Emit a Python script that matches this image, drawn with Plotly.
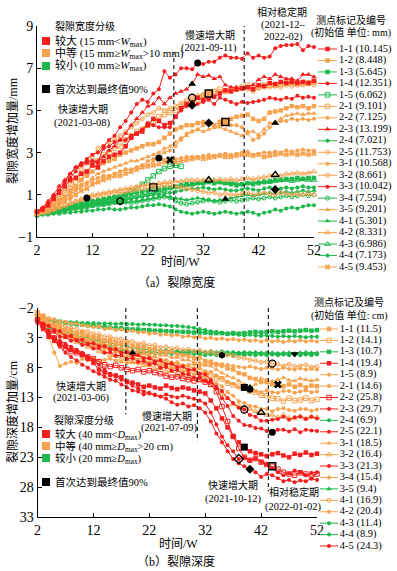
import plotly.graph_objects as go

# ---------------- DATA ----------------
weeks = list(range(2, 53))
point_ids = ["1-1", "1-2", "1-3", "1-4", "1-5", "2-1", "2-2", "2-3", "2-4", "2-5",
             "3-1", "3-2", "3-3", "3-4", "3-5", "4-1", "4-2", "4-3", "4-4", "4-5"]

width_initial_mm = [10.145, 8.448, 5.645, 12.351, 6.062, 9.101, 7.125, 13.199, 7.021, 11.753,
                    10.568, 8.661, 10.042, 7.594, 9.201, 5.301, 8.331, 6.986, 7.173, 9.453]
width_grade = ["L", "M", "S", "L", "S", "M", "M", "L", "S", "M",
               "M", "M", "L", "S", "M", "S", "M", "S", "S", "M"]

depth_initial_cm = [11.5, 14.1, 10.7, 19.4, 8.9, 14.6, 25.8, 29.7, 6.9, 22.1,
                    18.5, 16.4, 21.3, 15.4, 9.4, 16.9, 20.4, 11.4, 8.9, 24.3]
depth_grade = ["M", "M", "S", "L", "M", "M", "L", "L", "S", "L",
               "M", "M", "L", "M", "S", "M", "M", "S", "S", "L"]

# crack width increment (mm), weeks 2..52
W_1_1 = [0.2, 0.3, 0.5, 0.8, 1.1, 1.4, 1.7, 1.8, 2.0, 2.1,
         2.4, 2.3, 2.6, 2.8, 2.9, 3.0, 3.3, 3.7, 3.9, 4.0,
         4.3, 4.6, 4.5, 4.3, 4.4, 4.7, 5.1, 5.3, 5.35, 5.6,
         5.5, 5.6, 5.65, 5.8, 5.95, 5.9, 6.0, 6.05, 6.1, 6.0,
         6.2, 6.15, 6.3, 6.25, 6.35, 6.3, 6.35, 6.3, 6.35, 6.3,
         6.4]
W_1_2 = [0.1, 0.2, 0.3, 0.5, 0.7, 0.9, 1.2, 1.4, 1.7, 1.9,
         2.1, 2.3, 2.5, 2.6, 2.7, 2.9, 3.0, 3.1, 3.2, 3.3,
         3.4, 3.4, 3.5, 3.7, 3.9, 4.1, 4.2, 4.3, 4.3, 4.4,
         4.45, 4.4, 4.3, 4.45, 4.45, 4.6, 4.7, 4.75, 4.8, 4.6,
         4.5, 4.6, 4.9, 4.95, 5.0, 5.1, 5.2, 5.15, 5.2, 5.1,
         5.2]
W_1_3 = [0.1, 0.15, 0.2, 0.3, 0.35, 0.4, 0.5, 0.55, 0.6, 0.65,
         0.7, 0.75, 0.8, 0.85, 0.9, 0.95, 1.0, 1.05, 1.1, 1.15,
         1.2, 1.35, 1.25, 1.3, 1.35, 1.4, 1.45, 1.5, 1.5, 1.55,
         1.55, 1.6, 1.55, 1.6, 1.55, 1.5, 1.45, 1.5, 1.55, 1.5,
         1.55, 1.6, 1.65, 1.7, 1.7, 1.75, 1.75, 1.8, 1.75, 1.8,
         1.8]
W_1_4 = [0.2, 0.3, 0.6, 0.9, 1.2, 1.6, 1.8, 2.1, 2.5, 2.6,
         2.6, 2.5, 3.3, 3.6, 3.8, 4.2, 4.5, 4.9, 5.3, 5.5,
         5.4, 5.8, 6.0, 6.85, 6.55, 6.7, 7.0, 7.0, 6.95, 7.25,
         7.2, 7.3, 7.3, 7.5, 7.6, 7.5, 7.5, 7.45, 7.7, 7.5,
         7.6, 7.5, 7.55, 7.95, 8.05, 8.1, 8.1, 8.15, 7.85, 8.05,
         8.0]
W_1_5 = [0.1, 0.15, 0.2, 0.25, 0.3, 0.35, 0.4, 0.45, 0.5, 0.55,
         0.6, 0.65, 0.7, 0.75, 0.8, 0.9, 1.0, 1.15, 1.3, 1.5,
         1.7, 1.9, 2.1, 2.25, 2.35, 2.4, 2.35, None, None, None,
         None, None, None, None, None, None, None, None, None, None,
         None, None, None, None, None, None, None, None, None, None,
         None]
W_2_1 = [0.2, 0.3, 0.4, 0.6, 0.8, 1.1, 1.3, 1.6, 1.8, 2.1,
         2.4, 2.6, 2.9, 3.0, 3.2, 3.3, 3.6, 3.8, 4.0, 4.1,
         4.3, 4.4, 4.7, 4.8, 4.9, 5.0, 5.2, 5.3, 5.45, 5.5,
         5.7, 5.8, 5.9, 6.0, 5.9, 5.95, 6.0, 6.1, 6.2, 6.1,
         6.1, 6.2, 6.2, 6.2, 6.25, 6.3, 6.3, 6.25, 6.3, 6.3,
         6.35]
W_2_2 = [0.1, 0.2, 0.3, 0.4, 0.5, 0.7, 0.8, 1.0, 1.2, 1.3,
         1.5, 1.6, 1.8, 1.9, 2.0, 2.1, 2.2, 2.2, 2.3, 2.4,
         2.6, 2.7, 2.8, 3.0, 3.1, 3.3, 3.6, 3.9, 4.0, 4.1,
         4.3, 4.4, 4.2, 4.3, 4.4, 4.3, 4.3, 4.2, 3.9, 3.6,
         3.7, 3.9, 4.2, 4.4, 4.5, 4.5, 4.6, 4.55, 4.6, 4.55,
         4.6]
W_2_3 = [0.2, 0.4, 0.7, 1.0, 1.4, 1.7, 2.0, 2.3, 2.5, 2.5,
         2.6, 2.6, 2.8, 3.1, 3.3, 3.6, 3.9, 4.3, 4.6, 4.9,
         5.2, 5.3, 5.6, 5.3, 5.6, 5.8, 5.9, 6.0, 6.25, 6.7,
         6.6, 6.65, 6.5, 6.6, 6.2, 6.1, 6.1, 6.0, 6.1, 6.2,
         6.45, 6.6, 6.5, 6.7, 6.6, 6.5, 6.5, 6.4, 6.7, 6.7,
         6.6]
W_2_4 = [0.05, 0.1, 0.15, 0.2, 0.25, 0.3, 0.35, 0.4, 0.45, 0.45,
         0.5, 0.55, 0.6, 0.6, 0.65, 0.7, 0.75, 0.8, 0.85, 0.9,
         0.95, 1.0, 1.0, 1.05, 1.1, 1.15, 1.2, 1.25, 1.3, 1.3,
         1.35, 1.3, 1.25, 1.3, 1.25, 1.2, 1.2, 1.25, 1.3, 1.25,
         1.2, 1.3, 1.35, 1.25, 1.3, 1.35, 1.3, 1.35, 1.4, 1.35,
         1.35]
W_2_5 = [0.2, 0.3, 0.5, 0.7, 0.9, 1.2, 1.5, 1.8, 2.2, 2.5,
         2.8, 3.2, 3.3, 3.5, 3.6, 3.8, 4.0, 4.2, 4.4, 4.6,
         4.8, 4.9, 5.1, 5.0, 5.1, 5.2, 5.35, 5.5, 5.6, 5.7,
         5.75, 5.85, 5.9, 5.9, 5.95, 6.0, 6.0, 6.05, 6.0, 5.9,
         6.05, 6.1, 6.1, 6.15, 6.1, 6.2, 6.15, 6.2, 6.2, 6.25,
         6.2]
W_3_1 = [0.1, 0.2, 0.3, 0.5, 0.6, 0.8, 1.0, 1.2, 1.4, 1.5,
         1.7, 1.8, 1.9, 1.9, 2.0, 2.1, 2.2, 2.2, 2.3, 2.4,
         2.4, 2.6, 2.75, 2.65, 2.6, 2.7, 2.75, 2.8, 2.8, 2.8,
         2.85, 2.9, 2.85, 2.9, 2.95, 2.9, 2.95, 3.0, 3.05, 2.9,
         2.95, 3.0, 3.0, 3.05, 3.0, 3.1, 3.05, 3.1, 3.15, 3.1,
         3.1]
W_3_2 = [0.1, 0.15, 0.2, 0.3, 0.4, 0.5, 0.6, 0.7, 0.75, 0.85,
         0.9, 0.95, 1.0, 1.05, 1.1, 1.1, 1.15, 1.2, 1.25, 1.3,
         1.35, 1.37, 1.4, 1.45, 1.45, 1.4, 1.35, 1.3, 1.25, 1.2,
         1.15, 1.1, 1.1, 1.0, 1.05, 1.0, 1.0, 1.05, 1.1, 1.0,
         1.05, 1.1, 1.05, 1.0, 1.1, 1.05, 1.0, 1.05, 1.0, 1.05,
         1.0]
W_3_3 = [0.2, 0.35, 0.6, 0.9, 1.2, 1.6, 2.0, 2.3, 2.4, 2.7,
         2.9, 3.0, 3.2, 3.3, 3.5, 3.6, 3.6, 3.8, 3.9, 4.1,
         4.4, 4.3, 4.2, 4.2, 4.2, 4.7, 5.0, 5.2, 5.25, 5.3,
         5.4, 5.5, 5.3, 5.6, 5.5, 5.4, 5.3, 5.4, 5.35, 5.4,
         5.45, 5.5, 5.6, 5.55, 5.5, 5.6, 5.55, 5.7, 5.6, 5.65,
         5.6]
W_3_4 = [0.05, 0.1, 0.15, 0.2, 0.2, 0.25, 0.3, 0.35, 0.4, 0.45,
         0.5, 0.5, 0.55, 0.6, 0.65, 0.7, 0.65, 0.6, 0.65, 0.7,
         0.75, 0.8, 0.85, 0.9, 0.85, 0.7, 0.6, 0.55, 0.6, 0.65,
         0.7, 0.75, 0.7, 0.65, 0.7, 0.75, 0.7, 0.75, 0.8, 0.85,
         0.8, 0.85, 0.9, 0.85, 0.9, 0.95, 0.9, 0.95, 1.0, 0.95,
         1.0]
W_3_5 = [0.1, 0.2, 0.3, 0.5, 0.7, 0.9, 1.1, 1.3, 1.5, 1.6,
         1.8, 2.0, 2.1, 2.2, 2.3, 2.4, 2.5, 2.6, 2.6, 2.7,
         2.8, 2.9, 3.0, 3.2, 3.3, 3.5, 3.7, 3.8, 4.0, 4.1,
         4.0, 4.1, 4.2, 4.2, 4.1, 4.0, 3.9, 3.8, 4.0, 4.0,
         3.85, 4.1, 4.4, 4.4, 4.6, 4.75, 4.8, 4.85, 4.8, 4.85,
         4.85]
W_4_1 = [0.05, 0.1, 0.1, 0.15, 0.2, 0.25, 0.3, 0.35, 0.35, 0.4,
         0.45, 0.5, 0.5, 0.55, 0.6, 0.6, 0.65, 0.7, 0.7, 0.75,
         0.8, 0.85, 0.9, 0.95, 0.9, 0.85, 0.8, 0.75, 0.8, 0.85,
         0.8, 0.75, 0.7, 0.75, 0.8, 0.85, 0.9, 0.95, 1.0, 0.95,
         1.0, 1.05, 1.1, 1.05, 1.1, 1.15, 1.1, 1.15, 1.2, 1.15,
         1.2]
W_4_2 = [0.1, 0.15, 0.2, 0.3, 0.4, 0.5, 0.6, 0.7, 0.8, 0.9,
         1.0, 1.05, 1.1, 1.15, 1.2, 1.25, 1.3, 1.35, 1.4, 1.45,
         1.5, 1.5, 1.55, 1.6, 1.6, 1.65, 1.65, 1.7, 1.7, 1.7,
         1.7, 1.75, 1.7, 1.75, 1.7, 1.75, 1.7, 1.75, 1.8, 1.75,
         1.8, 1.85, 1.9, 1.95, 1.9, 2.0, 2.0, 2.05, 2.0, 2.05,
         2.1]
W_4_3 = [0.05, 0.1, 0.15, 0.2, 0.25, 0.3, 0.35, 0.4, 0.45, 0.5,
         0.55, 0.6, 0.65, 0.7, 0.75, 0.8, 0.85, 0.9, 0.95, 1.0,
         1.05, 1.1, 1.15, 1.2, 1.3, 1.35, 1.4, 1.45, 1.5, 1.55,
         1.6, 1.7, 1.65, 1.6, 1.55, 1.6, 1.55, 1.5, 1.55, 1.6,
         1.6, 1.65, 1.6, 1.65, 1.7, 1.7, 1.65, 1.7, 1.75, 1.7,
         1.7]
W_4_4 = [0.0, 0.05, 0.05, 0.1, 0.1, 0.15, 0.15, 0.2, 0.2, 0.25,
         0.25, 0.3, 0.3, 0.35, 0.3, 0.3, 0.35, 0.4, 0.4, 0.45,
         0.5, 0.5, 0.55, 0.5, 0.45, 0.3, 0.2, 0.15, 0.1, 0.15,
         0.2, 0.15, 0.1, 0.15, 0.2, 0.15, 0.1, 0.15, 0.2, 0.15,
         0.05, 0.15, 0.2, 0.3, 0.25, 0.35, 0.4, 0.35, 0.45, 0.5,
         0.5]
W_4_5 = [0.1, 0.2, 0.3, 0.4, 0.5, 0.7, 0.9, 1.0, 1.2, 1.3,
         1.5, 1.6, 1.7, 1.8, 1.9, 1.9, 2.0, 2.1, 2.2, 2.3,
         2.35, 2.4, 2.45, 2.55, 2.65, 2.55, 2.6, 2.65, 2.7, 2.75,
         2.7, 2.75, 2.8, 2.85, 2.8, 2.8, 2.85, 2.9, 2.9, 2.85,
         2.9, 2.8, 2.85, 2.9, 2.95, 2.9, 2.95, 2.9, 2.95, 2.9,
         2.95]

# crack depth increment (cm), weeks 2..52
D_1_1 = [-0.5, 0.2, 0.5, 1.0, 1.1, 1.6, 1.7, 2.2, 2.1, 2.6,
         2.8, 2.9, 3.4, 3.3, 3.7, 3.9, 3.8, 4.3, 4.4, 4.5,
         4.9, 4.8, 5.3, 5.4, 5.3, 5.8, 5.9, 6.0, 6.4, 6.3,
         6.9, 7.0, 7.4, 7.5, 8.1, 8.3, 8.9, 9.1, 9.7, 9.9,
         10.4, 10.4, 10.8, 10.8, 11.1, 10.8, 11.2, 10.9, 11.3, 11.0,
         11.1]
D_1_2 = [-1.2, -0.6, 0.2, 1.0, 1.8, 2.6, 3.0, 3.1, 3.6, 3.7,
         4.1, 4.2, 4.6, 4.7, 5.1, 5.2, 5.6, 5.7, 6.1, 6.1,
         6.6, 6.7, 7.1, 7.1, 7.6, 7.7, 8.1, 8.2, 8.6, 8.7,
         9.1, 9.2, 9.7, 9.9, 10.6, 10.9, 11.1, 11.3, 11.9, 12.1,
         12.6, 12.7, 13.1, 13.2, 13.6, 13.1, 13.5, 13.4, 13.1, 13.5,
         13.3]
D_1_3 = [-0.5, -0.3, 0.0, 0.2, 0.3, 0.5, 0.6, 0.7, 0.8, 0.9,
         1.0, 1.1, 1.2, 1.3, 1.4, 1.4, 1.5, 1.6, 1.6, 1.7,
         1.7, 1.8, 1.8, 1.9, 1.9, 2.0, 2.0, 2.0, 2.1, 2.1,
         2.1, 2.2, 2.2, 2.2, 2.3, 2.2, 2.3, 2.2, 2.1, 2.0,
         2.1, 2.0, 1.9, 2.0, 1.9, 1.8, 1.9, 1.8, 1.7, 1.8,
         1.7]
D_1_4 = [0.0, 1.5, 2.8, 3.5, 4.0, 4.5, 5.0, 5.3, 5.8, 6.5,
         7.2, 8.3, 8.8, 9.2, 9.3, 9.6, 10.3, 10.5, 10.8, 11.2,
         11.0, 11.3, 11.5, 11.0, 11.4, 11.6, 11.3, 11.5, 11.8, 12.0,
         12.3, 13.5, 14.8, 16.5, 18.0, 19.5, 20.5, 21.3, 22.0, 22.3,
         22.5, 22.8, 22.5, 22.3, 22.7, 23.0, 22.4, 22.6, 22.2, 22.6,
         22.4]
D_1_5 = [-0.5, 1.0, 3.0, 5.5, 7.7, 7.3, 7.0, 7.2, 6.5, 6.8,
         6.5, 6.8, 6.7, 6.5, 6.8, 7.0, 7.2, 7.0, 7.3, 7.2,
         7.5, 7.3, 7.6, 7.4, 7.5, 7.3, 7.6, 7.5, 7.4, 7.6,
         7.5, 7.3, 7.6, 7.8, 7.5, 7.7, 7.9, 8.0, 7.8, 8.0,
         8.2, 8.0, 8.1, 8.3, 8.0, 8.2, 8.3, 8.1, 8.3, 8.2,
         8.3]
D_2_1 = [-0.8, 0.0, 0.8, 1.2, 1.9, 2.1, 2.6, 2.7, 3.1, 3.2,
         3.6, 3.7, 4.1, 4.1, 4.6, 4.7, 5.1, 5.2, 5.6, 5.6,
         6.1, 6.1, 6.6, 6.7, 7.1, 7.1, 7.6, 7.7, 8.1, 8.1,
         8.6, 8.7, 9.3, 9.7, 10.4, 10.7, 11.3, 11.4, 11.6, 11.9,
         12.1, 11.8, 12.1, 12.2, 11.9, 11.9, 12.2, 12.0, 11.8, 12.1,
         12.0]
D_2_2 = [0.0, 1.0, 2.0, 3.0, 4.0, 4.8, 5.3, 5.5, 5.8, 6.2,
         6.5, 7.0, 7.5, 7.8, 7.6, 8.0, 8.3, 8.5, 8.3, 8.7,
         8.5, 8.8, 9.0, 9.4, 9.6, 9.5, 9.8, 10.0, 10.2, 10.0,
         10.4, 10.8, 12.0, 14.5, 17.0, 19.5, 21.5, 23.0, 23.5, 23.2,
         23.8, 24.2, 24.5, 25.0, 25.5, 25.8, 26.0, 25.6, 25.8, 26.2,
         25.8]
D_2_3 = [0.5, 1.5, 2.5, 3.0, 3.5, 4.0, 4.5, 5.0, 5.5, 6.2,
         6.8, 7.5, 8.3, 9.0, 9.5, 10.0, 10.5, 11.0, 11.5, 12.0,
         12.2, 12.5, 12.8, 13.2, 13.8, 14.2, 14.0, 14.5, 14.3, 14.8,
         15.5, 17.0, 19.0, 20.5, 22.0, 23.3, 24.0, 24.5, 25.0, 25.5,
         26.3, 25.8, 26.0, 26.5, 27.0, 26.8, 27.2, 26.9, 27.0, 26.6,
         26.8]
D_2_4 = [-0.3, -0.1, 0.1, 0.2, 0.3, 0.3, 0.4, 0.4, 0.5, 0.5,
         0.5, 0.6, 0.6, 0.6, 0.7, 0.6, 0.7, 0.7, 0.8, 0.7,
         0.8, 0.8, 0.9, 0.9, 1.0, 1.0, 1.1, 1.2, 1.3, 1.5,
         1.7, 1.9, 2.0, 2.2, 2.3, 2.4, 2.5, 2.6, 2.5, 2.6,
         2.7, 2.6, 2.7, 2.8, 2.7, 2.8, 2.7, 2.8, 2.9, 2.8,
         2.8]
D_2_5 = [0.0, 0.8, 1.9, 2.0, 2.8, 2.9, 3.5, 3.4, 4.2, 4.1,
         4.8, 4.7, 5.5, 5.4, 6.0, 5.9, 6.5, 6.4, 7.0, 6.9,
         7.4, 7.3, 8.0, 7.9, 8.5, 8.4, 9.0, 9.1, 9.7, 9.6,
         10.2, 10.4, 11.2, 11.9, 13.1, 13.9, 14.7, 15.0, 15.9, 16.2,
         16.9, 16.9, 16.7, 16.6, 16.2, 16.7, 16.3, 16.2, 16.6, 16.2,
         16.5]
D_3_1 = [-0.3, 0.4, 0.9, 1.1, 1.6, 1.7, 2.1, 2.2, 2.6, 2.7,
         3.1, 3.1, 3.6, 3.6, 4.1, 4.1, 4.6, 4.6, 5.1, 5.1,
         5.6, 5.5, 5.9, 5.9, 6.3, 6.3, 6.7, 6.7, 7.1, 7.1,
         7.6, 7.7, 8.3, 8.9, 9.4, 9.7, 10.2, 10.8, 11.3, 10.8,
         9.8, 10.0, 10.3, 10.0, 9.7, 10.1, 10.2, 9.8, 10.0, 10.2,
         10.0]
D_3_2 = [-1.0, -0.2, 0.8, 1.9, 2.2, 2.9, 3.1, 3.7, 3.9, 4.5,
         4.7, 5.3, 5.4, 5.9, 6.0, 6.5, 6.6, 7.1, 7.1, 7.6,
         7.6, 8.1, 8.1, 8.6, 8.6, 9.1, 9.1, 9.6, 9.7, 10.1,
         10.2, 10.9, 11.4, 12.4, 13.1, 14.1, 14.4, 14.9, 14.9, 15.3,
         15.5, 15.9, 15.9, 16.3, 15.9, 16.4, 16.5, 16.1, 16.5, 16.2,
         16.3]
D_3_3 = [0.0, 0.6, 1.0, 1.7, 1.9, 2.7, 2.7, 3.4, 3.3, 4.0,
         3.9, 4.4, 4.4, 4.9, 4.9, 5.5, 5.4, 6.0, 5.9, 6.4,
         6.4, 6.9, 6.8, 7.4, 7.3, 7.9, 7.8, 8.4, 8.3, 9.0,
         9.1, 10.1, 11.4, 13.1, 14.4, 16.1, 16.9, 17.6, 17.7, 18.1,
         18.2, 18.6, 18.8, 18.4, 18.4, 18.7, 18.3, 18.8, 18.4, 18.5,
         18.6]
D_3_4 = [-1.2, -0.8, -0.3, -0.1, 0.3, 0.3, 0.6, 0.6, 0.9, 1.0,
         1.2, 1.1, 1.5, 1.4, 1.7, 1.6, 1.9, 1.8, 2.1, 2.0,
         2.3, 2.2, 2.5, 2.4, 2.6, 2.5, 2.8, 2.7, 2.9, 2.8,
         3.1, 3.0, 3.2, 3.1, 3.3, 3.2, 3.4, 3.3, 3.5, 3.4,
         3.6, 3.4, 3.6, 3.5, 3.7, 3.5, 3.6, 3.4, 3.6, 3.5,
         3.6]
D_3_5 = [0.0, 0.5, 1.0, 1.5, 2.0, 2.4, 2.8, 3.0, 3.3, 3.5,
         3.8, 4.0, 4.2, 4.5, 4.8, 5.0, 5.3, 5.5, 5.4, 5.5,
         5.3, 5.4, 5.5, 5.4, 5.3, 5.5, 5.4, 5.5, 5.3, 5.4,
         5.5, 5.6, 5.5, 5.4, 5.6, 5.5, 5.5, 5.6, 5.5, 5.4,
         5.5, 5.6, 5.5, 5.6, 5.5, 5.5, 5.6, 5.5, 5.4, 5.5,
         5.5]
D_4_1 = [-1.0, -0.5, 0.2, 0.4, 0.9, 1.0, 1.4, 1.5, 1.9, 1.9,
         2.3, 2.4, 2.8, 2.8, 3.2, 3.2, 3.6, 3.6, 4.0, 3.9,
         4.3, 4.2, 4.6, 4.5, 4.8, 4.7, 5.0, 4.9, 5.2, 5.1,
         5.4, 5.3, 5.6, 5.6, 5.9, 6.0, 6.3, 6.4, 6.7, 6.8,
         7.1, 7.0, 7.3, 7.4, 7.7, 7.4, 7.8, 7.7, 7.5, 7.9,
         7.8]
D_4_2 = [-0.6, 0.4, 1.1, 1.4, 2.1, 2.2, 2.8, 2.9, 3.4, 3.5,
         4.1, 4.2, 4.7, 4.9, 5.4, 5.5, 6.1, 6.2, 6.7, 6.7,
         7.1, 7.2, 7.6, 7.7, 8.1, 8.2, 8.6, 8.7, 9.1, 9.2,
         9.7, 9.9, 10.6, 11.1, 12.1, 12.7, 13.6, 13.9, 14.4, 14.5,
         14.9, 14.9, 15.3, 14.9, 14.8, 15.1, 15.2, 14.9, 14.9, 15.2,
         15.0]
D_4_3 = [0.2, 0.8, 1.3, 1.8, 2.3, 2.8, 3.2, 3.5, 3.8, 4.0,
         4.3, 4.5, 4.7, 4.9, 5.0, 5.1, 5.2, 5.3, 5.4, 5.5,
         5.5, 5.6, 5.5, 5.6, 5.7, 5.6, 5.7, 5.8, 5.7, 5.8,
         5.9, 5.8, 5.9, 5.9, 5.8, 5.9, 5.8, 5.9, 5.8, 5.9,
         5.8, 5.9, 5.8, 5.9, 5.8, 5.9, 5.8, 5.9, 5.8, 5.9,
         5.8]
D_4_4 = [0.0, 0.5, 0.8, 1.2, 1.6, 2.0, 2.3, 2.6, 2.9, 3.1,
         3.3, 3.5, 3.7, 3.9, 4.1, 4.3, 4.5, 4.7, 4.8, 4.9,
         5.0, 5.0, 5.1, 5.1, 5.2, 5.2, 5.3, 5.2, 5.3, 5.3,
         5.4, 5.3, 5.4, 5.3, 5.4, 5.4, 5.5, 5.4, 5.5, 5.5,
         5.6, 5.5, 5.6, 5.6, 5.7, 5.6, 5.7, 5.6, 5.7, 5.6,
         5.7]
D_4_5 = [0.3, 1.0, 2.2, 3.5, 4.5, 5.5, 6.2, 6.8, 7.5, 8.0,
         8.6, 9.0, 9.5, 10.0, 10.2, 10.8, 11.3, 11.8, 12.0, 12.5,
         12.3, 12.6, 12.8, 12.5, 12.8, 13.0, 12.7, 13.0, 13.2, 13.5,
         14.0, 15.5, 17.5, 19.5, 21.0, 22.0, 23.3, 23.0, 23.5, 23.2,
         23.8, 24.2, 24.8, 25.5, 26.0, 25.7, 25.2, 25.5, 26.0, 25.6,
         25.5]

width_series = [W_1_1, W_1_2, W_1_3, W_1_4, W_1_5, W_2_1, W_2_2, W_2_3, W_2_4, W_2_5,
                W_3_1, W_3_2, W_3_3, W_3_4, W_3_5, W_4_1, W_4_2, W_4_3, W_4_4, W_4_5]
depth_series = [D_1_1, D_1_2, D_1_3, D_1_4, D_1_5, D_2_1, D_2_2, D_2_3, D_2_4, D_2_5,
                D_3_1, D_3_2, D_3_3, D_3_4, D_3_5, D_4_1, D_4_2, D_4_3, D_4_4, D_4_5]

# first time reaching 90 % of the final value
width_p90_ids = ["1-4", "2-3", "2-5", "3-3", "2-1", "2-2", "1-2", "3-5", "3-1",
                 "4-5", "4-3", "4-2", "2-4", "4-1", "3-2", "3-4", "1-3"]
width_p90_weeks = [31, 30, 30, 30, 33, 33, 36, 45, 24, 26, 33, 45, 45, 36, 11, 17, 23]
depth_p90_ids = ["3-5", "4-3", "4-4", "4-1", "1-2", "2-1", "3-1", "1-1", "2-5",
                 "3-2", "3-3", "1-4", "4-5", "2-3", "2-2"]
depth_p90_weeks = [19, 35, 48, 44, 39, 40, 40, 45, 39, 42, 44, 39, 38, 40, 44]

width_period_weeks = [26.7, 39.4]
depth_period_weeks = [17.8, 30.6, 43.3]

x_ticks = [2, 12, 22, 32, 42, 52]
width_ticks = [-1, 1, 3, 5, 7, 9]
depth_ticks = [-2, 3, 8, 13, 18, 23, 28, 33]

# ---------------- STYLE ----------------
W, H = 397, 571
FONT = "Liberation Serif, Noto Sans CJK SC, serif"
GRADE_COLOR = {"L": "#f41e1e", "M": "#f7a24e", "S": "#1fb84c"}
GRADE_ORDER = {"S": 0, "M": 1, "L": 2}

width_symbols = ["square", "square", "square", "circle", "square-open", "square-open", "circle",
                 "triangle-up", "circle", "circle-open", "circle", "circle-open", "circle",
                 "circle-open", "triangle-up", "triangle-up", "triangle-up-open",
                 "triangle-up-open", "circle", "x"]
depth_symbols = ["square", "square-open", "square", "square", "circle", "circle", "square-open",
                 "circle", "circle", "circle", "triangle-up", "triangle-up-open", "circle",
                 "circle", "triangle-up", "circle-open", "circle", "circle", "circle", "circle"]
width_p90_marks = ["circle", "triangle-up", "circle-open", "diamond", "square-grade", "diamond",
                   "square-grade", "triangle-up", "circle", "x", "triangle-up-open",
                   "triangle-up-open", "diamond", "triangle-up", "circle", "hexagon-open",
                   "square-open"]
depth_p90_marks = ["triangle-up", "hexagon", "triangle-down", "circle-open", "square", "circle",
                   "triangle-up", "x", "circle-open", "triangle-up-open", "circle", "square",
                   "diamond-open", "diamond", "square-open"]


def px(x):
    return x / W


def py(y):
    return 1 - y / H


def msize(sym):
    if sym.startswith("triangle"):
        return 5
    if sym.startswith("square"):
        return 4.5
    if sym == "x":
        return 5
    return 4


fig = go.Figure()


def add_chart(series, grades, symbols, xa, ya):
    order = sorted(range(len(series)), key=lambda i: GRADE_ORDER[grades[i]])
    for i in order:
        col = GRADE_COLOR[grades[i]]
        sym = symbols[i]
        is_open = sym.endswith("-open")
        fig.add_trace(go.Scatter(
            x=weeks, y=series[i], mode="lines+markers",
            line=dict(color=col, width=1),
            marker=dict(symbol=sym, size=msize(sym), color=col,
                        line=dict(width=1 if is_open else 0, color=col)),
            xaxis=xa, yaxis=ya, showlegend=False, cliponaxis=False, hoverinfo="skip"))


def add_p90(series, grades, ids, wks, marks, xa, ya):
    for pid, wk, mk in zip(ids, wks, marks):
        i = point_ids.index(pid)
        yv = series[i][weeks.index(wk)]
        if mk == "square-grade":
            mkr = dict(symbol="square", size=7, color=GRADE_COLOR[grades[i]],
                       line=dict(color="black", width=1.5))
        elif mk.endswith("-open"):
            mkr = dict(symbol=mk, size=7, color="black", line=dict(color="black", width=1.3))
        else:
            mkr = dict(symbol=mk, size=7, color="black", line=dict(width=0))
        fig.add_trace(go.Scatter(x=[wk], y=[yv], mode="markers", marker=mkr,
                                 xaxis=xa, yaxis=ya, showlegend=False,
                                 cliponaxis=False, hoverinfo="skip"))


def add_legend(grades, symbols, inits, fmt, xa, ya):
    for i, pid in enumerate(point_ids):
        col = GRADE_COLOR[grades[i]]
        sym = symbols[i]
        is_open = sym.endswith("-open")
        fig.add_trace(go.Scatter(
            x=[0, 0.5, 1], y=[i, i, i], mode="lines+markers",
            line=dict(color=col, width=1),
            marker=dict(symbol=sym, size=msize(sym), color=col, opacity=[0, 1, 0],
                        line=dict(width=1 if is_open else 0, color=col)),
            xaxis=xa, yaxis=ya, showlegend=False, cliponaxis=False, hoverinfo="skip"))
    labels = [f"{pid} ({fmt.format(v)})" for pid, v in zip(point_ids, inits)]
    fig.add_trace(go.Scatter(
        x=[1.1] * len(labels), y=list(range(len(labels))), mode="text", text=labels,
        textposition="middle right", textfont=dict(family=FONT, size=10.5, color="black"),
        xaxis=xa, yaxis=ya, showlegend=False, cliponaxis=False, hoverinfo="skip"))


add_chart(width_series, width_grade, width_symbols, "x", "y")
add_p90(width_series, width_grade, width_p90_ids, width_p90_weeks, width_p90_marks, "x", "y")
add_chart(depth_series, depth_grade, depth_symbols, "x2", "y2")
add_p90(depth_series, depth_grade, depth_p90_ids, depth_p90_weeks, depth_p90_marks, "x2", "y2")
add_legend(width_grade, width_symbols, width_initial_mm, "{:.3f}", "x3", "y3")
add_legend(depth_grade, depth_symbols, depth_initial_cm, "{:.1f}", "x4", "y4")

axis_common = dict(showline=True, linecolor="black", linewidth=1, ticks="inside", ticklen=4,
                   tickcolor="black", showgrid=False, zeroline=False, automargin=False,
                   tickfont=dict(family=FONT, size=14, color="black"))
hidden = dict(visible=False, showgrid=False, zeroline=False, automargin=False, fixedrange=True)

n = len(point_ids)
top_step = (267 - 49) / (n - 1)
bot_step = (546 - 329) / (n - 1)
# legend sample line is 19 px (top) / 18 px (bottom) long; axis spans to right edge
top_leg_x0, top_leg_len = 318, 19
bot_leg_x0, bot_leg_len = 320, 18

fig.update_layout(
    width=W, height=H, margin=dict(l=0, r=0, t=0, b=0),
    paper_bgcolor="white", plot_bgcolor="rgba(0,0,0,0)", showlegend=False,
    font=dict(family=FONT, size=11, color="black"),
    xaxis=dict(domain=[px(37), px(314)], range=[2, 52], tickvals=x_ticks, anchor="y", **axis_common),
    yaxis=dict(domain=[py(237), py(26)], range=[-1, 9], tickvals=width_ticks, anchor="x", **axis_common),
    xaxis2=dict(domain=[px(37.5), px(317)], range=[2, 52], tickvals=x_ticks, anchor="y2", **axis_common),
    yaxis2=dict(domain=[py(517), py(308)], range=[33, -2], tickvals=depth_ticks, anchor="x2", **axis_common),
    xaxis3=dict(domain=[px(top_leg_x0), 1], range=[0, (W - top_leg_x0) / top_leg_len],
                anchor="y3", **hidden),
    yaxis3=dict(domain=[py(267 + top_step / 2), py(49 - top_step / 2)], range=[n - 0.5, -0.5],
                anchor="x3", **hidden),
    xaxis4=dict(domain=[px(bot_leg_x0), 1], range=[0, (W - bot_leg_x0) / bot_leg_len],
                anchor="y4", **hidden),
    yaxis4=dict(domain=[py(546 + bot_step / 2), py(329 - bot_step / 2)], range=[n - 0.5, -0.5],
                anchor="x4", **hidden),
)

shapes = []
for wk, top in zip(width_period_weeks, [7.7, 9.0]):
    shapes.append(dict(type="line", xref="x", yref="y", x0=wk, x1=wk, y0=-1, y1=top,
                       line=dict(color="#222", width=1.2, dash="4px,3px")))
for wk, bot in zip(depth_period_weeks, [15.8, 20.3, 28.7]):
    shapes.append(dict(type="line", xref="x2", yref="y2", x0=wk, x1=wk, y0=-2, y1=bot,
                       line=dict(color="#222", width=1.2, dash="4px,3px")))
# grade key boxes
for ycen, col in [(41, GRADE_COLOR["L"]), (53, GRADE_COLOR["M"]), (66, GRADE_COLOR["S"]), (89, "black"),
                  (434, GRADE_COLOR["L"]), (446, GRADE_COLOR["M"]), (458, GRADE_COLOR["S"]), (482, "black")]:
    shapes.append(dict(type="rect", xref="paper", yref="paper", x0=px(42), x1=px(50),
                       y0=py(ycen + 4), y1=py(ycen - 4), fillcolor=col, line=dict(width=0)))
fig.update_layout(shapes=shapes)

annotations = []


def ann(text, x, y, size=10, xanchor="center", angle=0):
    annotations.append(dict(text=text, x=px(x), y=py(y), xref="paper", yref="paper",
                            xanchor=xanchor, yanchor="middle", showarrow=False,
                            textangle=angle, font=dict(family=FONT, size=size, color="black")))


# top chart texts
ann("裂隙宽度分级", 53, 26, xanchor="left")
ann("较大 (15 mm&lt;<i>W</i><sub>max</sub>)", 53, 41, size=11, xanchor="left")
ann("中等 (15 mm≥<i>W</i><sub>max</sub>&gt;10 mm)", 53, 53, size=11, xanchor="left")
ann("较小 (10 mm≥<i>W</i><sub>max</sub>)", 53, 66, size=11, xanchor="left")
ann("首次达到最终值90%", 53, 89, size=10.5, xanchor="left")
ann("快速增大期", 83, 109)
ann("(2021-03-08)", 82, 123, size=10.5)
ann("慢速增大期", 210, 35)
ann("(2021-09-11)", 209, 48, size=10.5)
ann("相对稳定期", 282, 12)
ann("(2021-12–", 283, 25, size=10.5)
ann("2022-02)", 283, 37, size=10.5)
ann("测点标记及编号", 351, 20)
ann("(初始值 单位: mm)", 351, 33)
ann("裂隙宽度增加量/mm", 12, 131, size=12, angle=-90)
ann("时间/W", 180, 262, size=12)
ann("（a）裂隙宽度", 176, 282, size=12)

# bottom chart texts
ann("测点标记及编号", 349, 302)
ann("(初始值 单位: cm)", 349, 315)
ann("快速增大期", 81, 386)
ann("(2021-03-06)", 81, 398, size=10.5)
ann("裂隙深度分级", 52, 420, xanchor="left")
ann("较大 (40 mm&lt;<i>D</i><sub>max</sub>)", 53, 435, size=10.5, xanchor="left")
ann("中等 (40 mm≥<i>D</i><sub>max</sub>&gt;20 cm)", 53, 447, size=10.5, xanchor="left")
ann("较小 (20 mm≥<i>D</i><sub>max</sub>)", 53, 459, size=10.5, xanchor="left")
ann("首次达到最终值90%", 53, 482, size=10.5, xanchor="left")
ann("慢速增大期", 167, 416)
ann("(2021-07-09)", 169, 428, size=10.5)
ann("快速增大期", 233, 485)
ann("(2021-10-12)", 233, 499, size=10.5)
ann("相对稳定期", 294, 492)
ann("(2022-01-02)", 293, 507, size=10.5)
ann("裂隙深度增加量/cm", 12, 412, size=12, angle=-90)
ann("时间/W", 178, 544, size=12)
ann("（b）裂隙深度", 176, 561, size=12)

fig.update_layout(annotations=annotations)

fig.write_html("out.html", config={"displayModeBar": False, "staticPlot": True},
               post_script="document.body.style.margin='0px';document.body.style.overflow='hidden';")
